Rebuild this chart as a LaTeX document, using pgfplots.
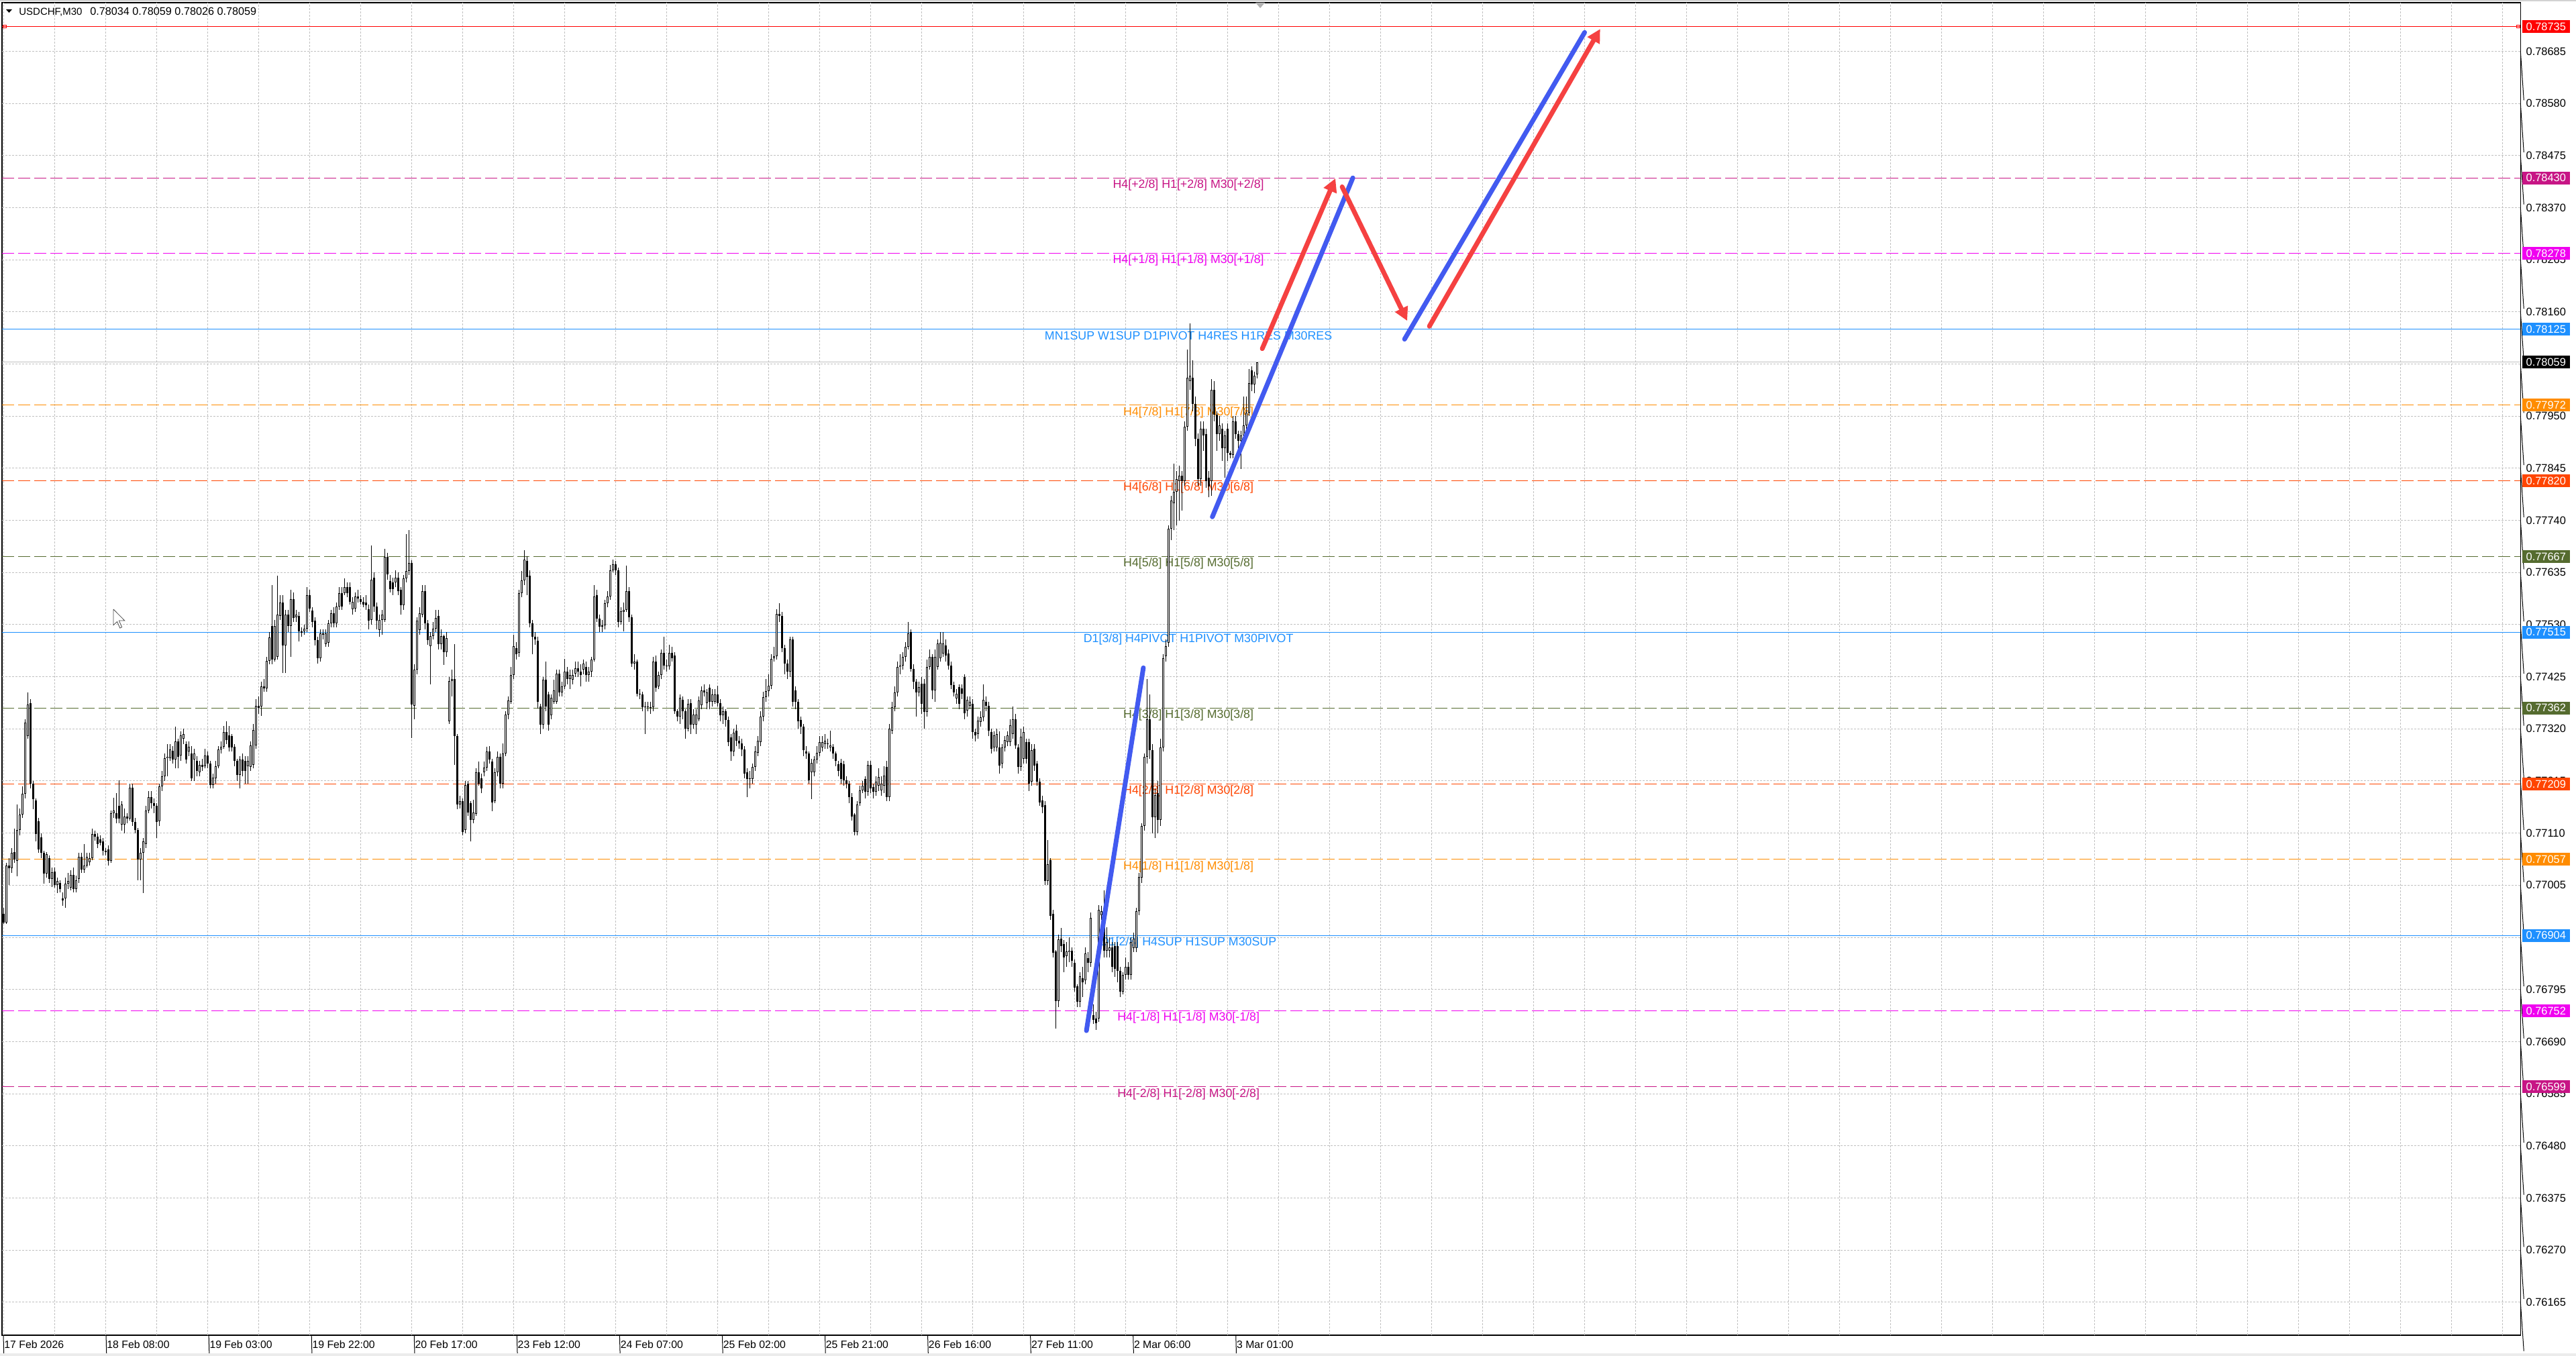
\documentclass[border=0pt]{standalone}
\usepackage{fontspec}
\setmainfont{Liberation Sans}
\usepackage{etoolbox}
\usepackage{pgfplots}
\pgfplotsset{compat=1.18}
\usepackage{pgfplotstable}
\usetikzlibrary{arrows.meta}
\definecolor{dodger}{RGB}{30,144,255}
\definecolor{mvred}{RGB}{199,21,133}
\definecolor{magen}{RGB}{240,0,240}
\definecolor{dorange}{RGB}{255,140,0}
\definecolor{ored}{RGB}{255,69,0}
\definecolor{dolive}{RGB}{85,107,47}
\definecolor{gridc}{RGB}{192,192,192}
\definecolor{tblue}{RGB}{66,90,240}
\definecolor{tred}{RGB}{245,65,65}
\tikzset{
  lev/.style={line width=0.5pt, dash pattern=on 9pt off 3pt},
  sol/.style={line width=0.5pt},
  lab/.style={anchor=base, yshift=-7.7pt, inner sep=0pt, font=\fontsize{8.9}{10}\selectfont},
  box/.style={anchor=west, xshift=1pt, inner xsep=3pt, inner ysep=0pt, minimum height=9.5pt, text=white, font=\fontsize{8.2}{10}\selectfont},
}
% y axis unit: (price - 0.76) * 100000
\newcommand\lvl[2]{\addplot[#1, forget plot] table[row sep=\\, y expr={(\thisrow{p}-0.76)*100000}] {x p\\ -0.5 #2\\ 937.75 #2\\};}
\newcommand\seg[5]{\addplot[#1, forget plot] table[row sep=\\, y expr={(\thisrow{p}-0.76)*100000}] {x p\\ #2 #3\\ #4 #5\\};}
\newcommand\plotpts[2]{\addplot[#1] coordinates {#2};}

\pgfplotstableread{
i o h l c
0 0.76948 0.76960 0.76927 0.76930
1 0.76930 0.77050 0.76927 0.77044
2 0.77044 0.77060 0.77005 0.77039
3 0.77039 0.77080 0.77030 0.77070
4 0.77072 0.77119 0.77050 0.77057
5 0.77054 0.77168 0.77023 0.77116
6 0.77116 0.77160 0.77105 0.77147
7 0.77147 0.77204 0.77140 0.77189
8 0.77189 0.77340 0.77180 0.77333
9 0.77305 0.77393 0.77300 0.77369
10 0.77372 0.77380 0.77200 0.77209
11 0.77209 0.77215 0.77158 0.77178
12 0.77176 0.77180 0.77093 0.77108
13 0.77134 0.77140 0.77070 0.77077
14 0.77101 0.77110 0.77060 0.77070
15 0.77070 0.77075 0.77008 0.77028
16 0.77028 0.77072 0.77020 0.77067
17 0.77059 0.77065 0.77010 0.77018
18 0.77018 0.77040 0.77002 0.77031
19 0.77033 0.77040 0.77000 0.77005
20 0.77005 0.77020 0.76989 0.77013
21 0.77010 0.77015 0.76990 0.76997
22 0.76979 0.76990 0.76964 0.76974
23 0.76979 0.77020 0.76959 0.77008
24 0.77008 0.77030 0.76997 0.77013
25 0.77000 0.77035 0.76995 0.77026
26 0.77026 0.77040 0.76990 0.76997
27 0.76997 0.77025 0.76990 0.77015
28 0.77018 0.77070 0.77010 0.77062
29 0.77062 0.77070 0.77030 0.77036
30 0.77036 0.77088 0.77030 0.77044
31 0.77044 0.77070 0.77040 0.77062
32 0.77052 0.77070 0.77045 0.77059
33 0.77059 0.77119 0.77055 0.77108
34 0.77108 0.77115 0.77095 0.77103
35 0.77103 0.77110 0.77080 0.77088
36 0.77098 0.77105 0.77085 0.77090
37 0.77093 0.77100 0.77065 0.77075
38 0.77075 0.77080 0.77065 0.77072
39 0.77077 0.77085 0.77045 0.77054
40 0.77054 0.77155 0.77050 0.77150
41 0.77150 0.77181 0.77140 0.77155
42 0.77150 0.77191 0.77130 0.77139
43 0.77165 0.77217 0.77130 0.77139
44 0.77127 0.77175 0.77115 0.77168
45 0.77127 0.77160 0.77110 0.77144
46 0.77144 0.77150 0.77130 0.77139
47 0.77139 0.77210 0.77135 0.77201
48 0.77201 0.77210 0.77125 0.77132
49 0.77132 0.77140 0.77110 0.77116
50 0.77116 0.77120 0.77015 0.77057
51 0.77057 0.77080 0.77015 0.77070
52 0.77070 0.77100 0.76989 0.77093
53 0.77088 0.77165 0.77080 0.77155
54 0.77155 0.77195 0.77150 0.77183
55 0.77183 0.77195 0.77160 0.77170
56 0.77170 0.77180 0.77150 0.77165
57 0.77165 0.77170 0.77100 0.77132
58 0.77134 0.77210 0.77125 0.77204
59 0.77204 0.77235 0.77195 0.77225
60 0.77225 0.77270 0.77215 0.77261
61 0.77261 0.77290 0.77225 0.77264
62 0.77261 0.77290 0.77255 0.77279
63 0.77276 0.77285 0.77250 0.77258
64 0.77258 0.77325 0.77240 0.77295
65 0.77295 0.77300 0.77240 0.77264
66 0.77266 0.77315 0.77255 0.77307
67 0.77300 0.77320 0.77290 0.77310
68 0.77289 0.77295 0.77250 0.77258
69 0.77274 0.77295 0.77265 0.77284
70 0.77271 0.77285 0.77215 0.77220
71 0.77258 0.77280 0.77215 0.77271
72 0.77256 0.77265 0.77225 0.77235
73 0.77233 0.77255 0.77225 0.77248
74 0.77248 0.77260 0.77235 0.77243
75 0.77245 0.77280 0.77240 0.77266
76 0.77266 0.77275 0.77240 0.77250
77 0.77250 0.77255 0.77200 0.77207
78 0.77207 0.77230 0.77200 0.77222
79 0.77220 0.77255 0.77210 0.77245
80 0.77245 0.77285 0.77240 0.77279
81 0.77279 0.77295 0.77270 0.77284
82 0.77284 0.77326 0.77280 0.77313
83 0.77313 0.77335 0.77290 0.77297
84 0.77307 0.77326 0.77275 0.77282
85 0.77305 0.77310 0.77275 0.77282
86 0.77284 0.77290 0.77245 0.77256
87 0.77256 0.77260 0.77215 0.77227
88 0.77227 0.77265 0.77200 0.77258
89 0.77258 0.77270 0.77225 0.77235
90 0.77256 0.77265 0.77209 0.77235
91 0.77245 0.77265 0.77209 0.77256
92 0.77243 0.77295 0.77235 0.77287
93 0.77248 0.77330 0.77240 0.77318
94 0.77287 0.77380 0.77280 0.77367
95 0.77367 0.77385 0.77350 0.77362
96 0.77365 0.77415 0.77346 0.77406
97 0.77406 0.77420 0.77395 0.77401
98 0.77401 0.77465 0.77395 0.77457
99 0.77457 0.77515 0.77450 0.77504
100 0.77527 0.77610 0.77450 0.77460
101 0.77460 0.77540 0.77455 0.77527
102 0.77465 0.77628 0.77460 0.77550
103 0.77548 0.77590 0.77540 0.77574
104 0.77574 0.77590 0.77432 0.77488
105 0.77488 0.77560 0.77432 0.77550
106 0.77550 0.77560 0.77515 0.77527
107 0.77527 0.77600 0.77465 0.77581
108 0.77581 0.77595 0.77535 0.77543
109 0.77545 0.77560 0.77535 0.77550
110 0.77548 0.77555 0.77496 0.77517
111 0.77517 0.77525 0.77505 0.77514
112 0.77517 0.77530 0.77510 0.77522
113 0.77522 0.77605 0.77515 0.77589
114 0.77589 0.77600 0.77555 0.77563
115 0.77558 0.77565 0.77525 0.77535
116 0.77538 0.77545 0.77488 0.77499
117 0.77499 0.77505 0.77452 0.77463
118 0.77463 0.77520 0.77455 0.77512
119 0.77512 0.77520 0.77500 0.77509
120 0.77491 0.77520 0.77485 0.77512
121 0.77494 0.77540 0.77485 0.77532
122 0.77532 0.77560 0.77525 0.77553
123 0.77553 0.77565 0.77525 0.77532
124 0.77532 0.77575 0.77525 0.77566
125 0.77566 0.77605 0.77560 0.77594
126 0.77594 0.77605 0.77560 0.77566
127 0.77594 0.77623 0.77590 0.77605
128 0.77605 0.77615 0.77585 0.77594
129 0.77605 0.77615 0.77570 0.77576
130 0.77561 0.77585 0.77550 0.77576
131 0.77563 0.77595 0.77555 0.77587
132 0.77587 0.77600 0.77575 0.77582
133 0.77581 0.77590 0.77570 0.77576
134 0.77576 0.77585 0.77565 0.77571
135 0.77574 0.77590 0.77560 0.77569
136 0.77561 0.77570 0.77520 0.77538
137 0.77540 0.77690 0.77530 0.77620
138 0.77625 0.77635 0.77555 0.77566
139 0.77566 0.77575 0.77520 0.77538
140 0.77519 0.77550 0.77505 0.77540
141 0.77540 0.77560 0.77510 0.77550
142 0.77540 0.77682 0.77535 0.77667
143 0.77667 0.77675 0.77620 0.77631
144 0.77618 0.77630 0.77595 0.77602
145 0.77615 0.77625 0.77590 0.77602
146 0.77615 0.77640 0.77605 0.77625
147 0.77625 0.77635 0.77590 0.77597
148 0.77600 0.77605 0.77550 0.77569
149 0.77569 0.77630 0.77560 0.77623
150 0.77623 0.77713 0.77615 0.77638
151 0.77638 0.77721 0.77630 0.77654
152 0.77654 0.77660 0.77302 0.77369
153 0.77367 0.77450 0.77340 0.77439
154 0.77439 0.77545 0.77430 0.77538
155 0.77519 0.77565 0.77510 0.77553
156 0.77550 0.77610 0.77545 0.77597
157 0.77597 0.77610 0.77520 0.77532
158 0.77532 0.77540 0.77490 0.77499
159 0.77486 0.77515 0.77410 0.77507
160 0.77507 0.77535 0.77500 0.77522
161 0.77522 0.77560 0.77515 0.77543
162 0.77548 0.77560 0.77480 0.77491
163 0.77491 0.77520 0.77480 0.77507
164 0.77507 0.77510 0.77449 0.77475
165 0.77475 0.77515 0.77465 0.77503
166 0.77335 0.77425 0.77330 0.77417
167 0.77417 0.77440 0.77385 0.77420
168 0.77420 0.77491 0.77247 0.77305
169 0.77305 0.77310 0.77158 0.77168
170 0.77168 0.77185 0.77160 0.77174
171 0.77174 0.77180 0.77105 0.77112
172 0.77116 0.77215 0.77110 0.77207
173 0.77210 0.77215 0.77145 0.77151
174 0.77170 0.77175 0.77093 0.77137
175 0.77137 0.77177 0.77130 0.77151
176 0.77149 0.77240 0.77145 0.77233
177 0.77233 0.77254 0.77205 0.77210
178 0.77221 0.77230 0.77190 0.77200
179 0.77233 0.77254 0.77225 0.77242
180 0.77242 0.77284 0.77235 0.77275
181 0.77275 0.77285 0.77250 0.77258
182 0.77254 0.77260 0.77154 0.77172
183 0.77175 0.77240 0.77170 0.77233
184 0.77233 0.77275 0.77225 0.77263
185 0.77263 0.77270 0.77200 0.77210
186 0.77210 0.77291 0.77200 0.77270
187 0.77270 0.77355 0.77265 0.77349
188 0.77349 0.77385 0.77340 0.77377
189 0.77375 0.77445 0.77370 0.77428
190 0.77428 0.77510 0.77420 0.77486
191 0.77482 0.77495 0.77460 0.77470
192 0.77473 0.77600 0.77465 0.77593
193 0.77593 0.77638 0.77585 0.77619
194 0.77619 0.77680 0.77610 0.77661
195 0.77659 0.77668 0.77589 0.77626
196 0.77628 0.77640 0.77525 0.77533
197 0.77533 0.77540 0.77470 0.77505
198 0.77505 0.77515 0.77490 0.77500
199 0.77498 0.77505 0.77361 0.77375
200 0.77365 0.77370 0.77310 0.77328
201 0.77328 0.77425 0.77320 0.77419
202 0.77419 0.77456 0.77355 0.77365
203 0.77389 0.77395 0.77317 0.77328
204 0.77347 0.77390 0.77340 0.77382
205 0.77375 0.77419 0.77370 0.77398
206 0.77375 0.77440 0.77370 0.77431
207 0.77431 0.77440 0.77385 0.77393
208 0.77393 0.77415 0.77385 0.77405
209 0.77405 0.77461 0.77400 0.77435
210 0.77435 0.77445 0.77410 0.77421
211 0.77421 0.77440 0.77400 0.77428
212 0.77419 0.77440 0.77410 0.77428
213 0.77431 0.77455 0.77425 0.77442
214 0.77442 0.77455 0.77425 0.77435
215 0.77435 0.77450 0.77405 0.77428
216 0.77440 0.77459 0.77430 0.77452
217 0.77445 0.77455 0.77415 0.77428
218 0.77428 0.77445 0.77415 0.77435
219 0.77435 0.77465 0.77425 0.77459
220 0.77459 0.77610 0.77455 0.77587
221 0.77589 0.77600 0.77535 0.77542
222 0.77542 0.77550 0.77515 0.77526
223 0.77526 0.77540 0.77515 0.77528
224 0.77528 0.77580 0.77520 0.77573
225 0.77573 0.77598 0.77565 0.77587
226 0.77587 0.77650 0.77580 0.77640
227 0.77640 0.77661 0.77635 0.77652
228 0.77652 0.77658 0.77630 0.77640
229 0.77640 0.77645 0.77525 0.77535
230 0.77535 0.77565 0.77530 0.77557
231 0.77556 0.77575 0.77517 0.77559
232 0.77559 0.77649 0.77555 0.77598
233 0.77598 0.77605 0.77535 0.77545
234 0.77545 0.77550 0.77445 0.77452
235 0.77452 0.77470 0.77440 0.77456
236 0.77456 0.77460 0.77385 0.77391
237 0.77391 0.77400 0.77380 0.77389
238 0.77389 0.77395 0.77355 0.77363
239 0.77363 0.77375 0.77310 0.77365
240 0.77365 0.77375 0.77355 0.77364
241 0.77364 0.77375 0.77350 0.77362
242 0.77363 0.77465 0.77355 0.77456
243 0.77456 0.77468 0.77395 0.77403
244 0.77405 0.77435 0.77400 0.77428
245 0.77428 0.77480 0.77420 0.77473
246 0.77473 0.77505 0.77440 0.77447
247 0.77447 0.77460 0.77435 0.77446
248 0.77446 0.77490 0.77440 0.77473
249 0.77473 0.77485 0.77455 0.77463
250 0.77468 0.77475 0.77350 0.77356
251 0.77356 0.77360 0.77335 0.77345
252 0.77345 0.77390 0.77330 0.77382
253 0.77379 0.77385 0.77340 0.77356
254 0.77356 0.77360 0.77300 0.77321
255 0.77321 0.77380 0.77315 0.77370
256 0.77372 0.77380 0.77310 0.77328
257 0.77328 0.77360 0.77320 0.77349
258 0.77328 0.77360 0.77310 0.77349
259 0.77340 0.77385 0.77335 0.77377
260 0.77368 0.77405 0.77360 0.77398
261 0.77398 0.77410 0.77385 0.77393
262 0.77372 0.77400 0.77360 0.77393
263 0.77403 0.77410 0.77360 0.77375
264 0.77375 0.77400 0.77365 0.77389
265 0.77375 0.77400 0.77370 0.77389
266 0.77389 0.77407 0.77365 0.77372
267 0.77372 0.77380 0.77335 0.77347
268 0.77347 0.77365 0.77330 0.77356
269 0.77356 0.77360 0.77325 0.77338
270 0.77338 0.77345 0.77285 0.77293
271 0.77303 0.77310 0.77255 0.77275
272 0.77275 0.77320 0.77265 0.77312
273 0.77317 0.77328 0.77285 0.77296
274 0.77296 0.77305 0.77280 0.77291
275 0.77291 0.77300 0.77265 0.77279
276 0.77279 0.77285 0.77220 0.77230
277 0.77233 0.77240 0.77182 0.77219
278 0.77219 0.77235 0.77200 0.77221
279 0.77219 0.77250 0.77210 0.77244
280 0.77244 0.77285 0.77235 0.77275
281 0.77272 0.77305 0.77265 0.77296
282 0.77293 0.77355 0.77285 0.77345
283 0.77345 0.77395 0.77335 0.77384
284 0.77384 0.77420 0.77375 0.77396
285 0.77396 0.77430 0.77385 0.77407
286 0.77407 0.77470 0.77400 0.77461
287 0.77463 0.77485 0.77455 0.77466
288 0.77466 0.77561 0.77460 0.77552
289 0.77552 0.77573 0.77535 0.77547
290 0.77547 0.77555 0.77475 0.77482
291 0.77482 0.77490 0.77430 0.77452
292 0.77452 0.77460 0.77420 0.77435
293 0.77435 0.77505 0.77425 0.77500
294 0.77500 0.77505 0.77365 0.77375
295 0.77398 0.77405 0.77360 0.77375
296 0.77375 0.77380 0.77320 0.77335
297 0.77338 0.77345 0.77310 0.77324
298 0.77324 0.77330 0.77265 0.77277
299 0.77275 0.77285 0.77260 0.77270
300 0.77270 0.77275 0.77210 0.77216
301 0.77233 0.77260 0.77179 0.77251
302 0.77233 0.77265 0.77225 0.77258
303 0.77258 0.77285 0.77250 0.77272
304 0.77272 0.77305 0.77265 0.77293
305 0.77282 0.77305 0.77275 0.77293
306 0.77289 0.77310 0.77280 0.77296
307 0.77291 0.77300 0.77280 0.77289
308 0.77282 0.77317 0.77275 0.77286
309 0.77284 0.77290 0.77260 0.77270
310 0.77270 0.77275 0.77245 0.77256
311 0.77249 0.77255 0.77225 0.77235
312 0.77251 0.77260 0.77210 0.77219
313 0.77249 0.77255 0.77205 0.77216
314 0.77216 0.77225 0.77200 0.77210
315 0.77210 0.77215 0.77170 0.77182
316 0.77182 0.77190 0.77135 0.77144
317 0.77147 0.77150 0.77105 0.77112
318 0.77112 0.77175 0.77105 0.77168
319 0.77170 0.77205 0.77165 0.77196
320 0.77196 0.77215 0.77190 0.77205
321 0.77219 0.77225 0.77180 0.77193
322 0.77193 0.77255 0.77185 0.77247
323 0.77247 0.77255 0.77190 0.77200
324 0.77203 0.77210 0.77180 0.77193
325 0.77193 0.77225 0.77185 0.77213
326 0.77206 0.77240 0.77195 0.77223
327 0.77196 0.77225 0.77185 0.77209
328 0.77206 0.77245 0.77190 0.77226
329 0.77243 0.77255 0.77175 0.77183
330 0.77183 0.77330 0.77175 0.77320
331 0.77317 0.77375 0.77310 0.77364
332 0.77364 0.77405 0.77355 0.77394
333 0.77394 0.77455 0.77385 0.77445
334 0.77445 0.77470 0.77430 0.77448
335 0.77448 0.77475 0.77440 0.77465
336 0.77465 0.77495 0.77455 0.77485
337 0.77485 0.77536 0.77480 0.77512
338 0.77515 0.77520 0.77435 0.77441
339 0.77441 0.77450 0.77400 0.77415
340 0.77415 0.77420 0.77345 0.77394
341 0.77394 0.77415 0.77385 0.77404
342 0.77411 0.77425 0.77350 0.77371
343 0.77411 0.77420 0.77320 0.77354
344 0.77354 0.77460 0.77345 0.77445
345 0.77445 0.77480 0.77440 0.77465
346 0.77465 0.77470 0.77380 0.77398
347 0.77398 0.77480 0.77374 0.77465
348 0.77445 0.77500 0.77440 0.77492
349 0.77462 0.77515 0.77455 0.77493
350 0.77472 0.77515 0.77465 0.77492
351 0.77488 0.77500 0.77455 0.77468
352 0.77472 0.77480 0.77440 0.77448
353 0.77448 0.77455 0.77400 0.77408
354 0.77408 0.77415 0.77385 0.77394
355 0.77381 0.77400 0.77370 0.77391
356 0.77404 0.77410 0.77360 0.77371
357 0.77401 0.77410 0.77380 0.77391
358 0.77425 0.77430 0.77340 0.77351
359 0.77357 0.77385 0.77345 0.77378
360 0.77367 0.77385 0.77360 0.77374
361 0.77371 0.77380 0.77300 0.77314
362 0.77314 0.77320 0.77295 0.77307
363 0.77310 0.77345 0.77300 0.77337
364 0.77334 0.77355 0.77325 0.77344
365 0.77344 0.77410 0.77335 0.77378
366 0.77374 0.77385 0.77355 0.77367
367 0.77367 0.77375 0.77305 0.77317
368 0.77314 0.77320 0.77270 0.77280
369 0.77283 0.77315 0.77275 0.77307
370 0.77283 0.77320 0.77275 0.77310
371 0.77283 0.77315 0.77230 0.77246
372 0.77250 0.77290 0.77240 0.77283
373 0.77283 0.77305 0.77275 0.77297
374 0.77293 0.77315 0.77285 0.77307
375 0.77293 0.77340 0.77285 0.77327
376 0.77310 0.77365 0.77300 0.77340
377 0.77340 0.77350 0.77280 0.77287
378 0.77283 0.77290 0.77230 0.77243
379 0.77243 0.77320 0.77235 0.77304
380 0.77260 0.77325 0.77250 0.77314
381 0.77293 0.77300 0.77250 0.77260
382 0.77293 0.77300 0.77195 0.77209
383 0.77213 0.77290 0.77205 0.77277
384 0.77280 0.77290 0.77235 0.77246
385 0.77250 0.77255 0.77205 0.77213
386 0.77213 0.77220 0.77165 0.77172
387 0.77176 0.77185 0.77150 0.77162
388 0.77166 0.77175 0.77005 0.77014
389 0.77014 0.77096 0.77005 0.77047
390 0.77056 0.77060 0.76935 0.76943
391 0.76948 0.76955 0.76860 0.76869
392 0.76871 0.76875 0.76716 0.76772
393 0.76772 0.76905 0.76760 0.76896
394 0.76898 0.76919 0.76870 0.76882
395 0.76887 0.76895 0.76830 0.76860
396 0.76862 0.76890 0.76840 0.76871
397 0.76870 0.76900 0.76850 0.76873
398 0.76873 0.76880 0.76840 0.76853
399 0.76849 0.76855 0.76790 0.76799
400 0.76801 0.76805 0.76760 0.76770
401 0.76770 0.76830 0.76760 0.76822
402 0.76817 0.76840 0.76780 0.76810
403 0.76813 0.76880 0.76805 0.76867
404 0.76858 0.76870 0.76830 0.76849
405 0.76849 0.76950 0.76840 0.76939
406 0.76743 0.76765 0.76725 0.76734
407 0.76736 0.76750 0.76714 0.76727
408 0.76736 0.76965 0.76730 0.76955
409 0.76945 0.76964 0.76935 0.76953
410 0.76945 0.76995 0.76860 0.76873
411 0.76873 0.76920 0.76860 0.76890
412 0.76873 0.76900 0.76860 0.76880
413 0.76880 0.76890 0.76830 0.76840
414 0.76882 0.76890 0.76820 0.76837
415 0.76882 0.76890 0.76810 0.76833
416 0.76833 0.76840 0.76780 0.76790
417 0.76790 0.76830 0.76785 0.76824
418 0.76824 0.76860 0.76815 0.76840
419 0.76840 0.76850 0.76815 0.76824
420 0.76824 0.76900 0.76815 0.76891
421 0.76878 0.76910 0.76870 0.76898
422 0.76878 0.76960 0.76870 0.76953
423 0.76953 0.77030 0.76945 0.77022
424 0.77020 0.77130 0.77010 0.77124
425 0.77124 0.77270 0.77115 0.77263
426 0.77263 0.77420 0.77250 0.77340
427 0.77340 0.77390 0.77260 0.77277
428 0.77277 0.77290 0.77109 0.77142
429 0.77142 0.77200 0.77100 0.77187
430 0.77190 0.77215 0.77110 0.77136
431 0.77136 0.77300 0.77125 0.77283
432 0.77282 0.77470 0.77275 0.77462
433 0.77466 0.77500 0.77455 0.77487
434 0.77494 0.77730 0.77485 0.77723
435 0.77723 0.77790 0.77700 0.77780
436 0.77775 0.77854 0.77720 0.77798
437 0.77798 0.77840 0.77730 0.77823
438 0.77819 0.77850 0.77740 0.77830
439 0.77830 0.77840 0.77760 0.77819
440 0.77819 0.77940 0.77810 0.77929
441 0.77929 0.78084 0.77920 0.78028
442 0.78021 0.78137 0.78003 0.78031
443 0.78028 0.78063 0.77960 0.77975
444 0.77975 0.77990 0.77890 0.77904
445 0.77904 0.77915 0.77810 0.77823
446 0.77823 0.77940 0.77810 0.77925
447 0.77925 0.77940 0.77880 0.77911
448 0.77914 0.77925 0.77805 0.77819
449 0.77826 0.77840 0.77787 0.77808
450 0.77819 0.78024 0.77790 0.78003
451 0.78003 0.78020 0.77940 0.77953
452 0.77953 0.77960 0.77880 0.77914
453 0.77914 0.77950 0.77900 0.77932
454 0.77925 0.77935 0.77860 0.77886
455 0.77886 0.77920 0.77826 0.77911
456 0.77925 0.77935 0.77860 0.77876
457 0.77876 0.77880 0.77865 0.77872
458 0.77872 0.77950 0.77865 0.77939
459 0.77939 0.77950 0.77905 0.77914
460 0.77914 0.77920 0.77883 0.77900
461 0.77900 0.77920 0.77844 0.77911
462 0.77911 0.77989 0.77900 0.77932
463 0.77932 0.77990 0.77920 0.77957
464 0.77957 0.78045 0.77950 0.78017
465 0.78042 0.78050 0.78000 0.78014
466 0.78014 0.78040 0.77996 0.78031
467 0.78034 0.78059 0.78026 0.78059
}\candles

% build compact candle paths from the table (prices -> tenths of a pip above 0.76)
\makeatletter
\def\tocent#1{\expandafter\tocent@#1\relax}
\def\tocent@0.#1\relax{\the\numexpr#1-76000\relax}
\makeatother
\gdef\wickpts{}\gdef\bodypts{}\gdef\holpts{}
\pgfplotstablegetrowsof{\candles}
\pgfmathtruncatemacro\lastrow{\pgfplotsretval-1}
\pgfplotsforeachungrouped \rr in {0,...,\lastrow}{%
  \pgfplotstablegetelem{\rr}{i}\of\candles \edef\vi{\pgfplotsretval}%
  \pgfplotstablegetelem{\rr}{o}\of\candles \edef\vo{\tocent\pgfplotsretval}%
  \pgfplotstablegetelem{\rr}{h}\of\candles \edef\vh{\tocent\pgfplotsretval}%
  \pgfplotstablegetelem{\rr}{l}\of\candles \edef\vl{\tocent\pgfplotsretval}%
  \pgfplotstablegetelem{\rr}{c}\of\candles \edef\vc{\tocent\pgfplotsretval}%
  \xappto\wickpts{(\vi,\vl)(\vi,\vh)(\vi,nan)}%
  \ifnum\vo<\vc \edef\blo{\vo}\edef\bhi{\vc}\else \edef\blo{\vc}\edef\bhi{\vo}\fi
  \ifnum\numexpr\bhi-\blo\relax<2
    \pgfmathsetmacro\blo{(\vo+\vc)/2-0.7}\pgfmathsetmacro\bhi{(\vo+\vc)/2+0.7}%
  \fi
  \xappto\bodypts{(\vi,\blo)(\vi,\bhi)(\vi,nan)}%
  \ifnum\vc>\numexpr\vo+2\relax
    \pgfmathsetmacro\hlo{\vo+1.35}\pgfmathsetmacro\hhi{\vc-1.35}%
    \xappto\holpts{(\vi,\hlo)(\vi,\hhi)(\vi,nan)}%
  \fi
}
% chart grid (every 19 bars, every 0.00105)
\gdef\vgrid{}\gdef\hgrid{}
\pgfplotsforeachungrouped \kk in {0,19,...,931}{\xappto\vgrid{(\kk,98.5)(\kk,2783)(\kk,nan)}}
\pgfplotsforeachungrouped \kk in {165,270,...,2685}{\xappto\hgrid{(-0.5,\kk)(937.75,\kk)(0,nan)}}

\begin{document}
\begin{tikzpicture}
\begin{axis}[
  at={(1.5pt,15.5pt)}, anchor=south west,
  scale only axis, width=1876.5pt, height=993pt,
  xmin=-0.5, xmax=937.75, ymin=98.5, ymax=2783,
  clip mode=individual,
  axis line style={black, line width=0.6pt},
  xtick=\empty, ytick=\empty,
  unbounded coords=jump,
]
% grid
\def\callG{\plotpts{gridc, line width=0.5pt, dash pattern=on 1.5pt off 1pt, forget plot}}
\expandafter\callG\expandafter{\vgrid}
\expandafter\callG\expandafter{\hgrid}
% level lines (prices)
\lvl{sol, red}{0.78735}
\addplot[only marks, mark=square, mark size=1.2pt, red, mark options={fill=white, line width=0.4pt}, forget plot] coordinates {(0.5,2735) (937,2735)};
\lvl{lev, mvred}{0.78430}
\lvl{lev, magen}{0.78278}
\lvl{sol, dodger}{0.78125}
\lvl{sol, gridc}{0.78059}
\lvl{lev, dorange}{0.77972}
\lvl{lev, ored}{0.77820}
\lvl{lev, dolive}{0.77667}
\lvl{sol, dodger}{0.77515}
\lvl{lev, dolive}{0.77362}
\lvl{lev, ored}{0.77209}
\lvl{lev, dorange}{0.77057}
\lvl{sol, dodger}{0.76904}
\lvl{lev, magen}{0.76752}
\lvl{lev, mvred}{0.76599}
% level labels
\node[lab, text=mvred] at (axis cs:441.5,2430) {H4[+2/8] H1[+2/8] M30[+2/8]};
\node[lab, text=magen] at (axis cs:441.5,2278) {H4[+1/8] H1[+1/8] M30[+1/8]};
\node[lab, text=dodger] at (axis cs:441.5,2125) {MN1SUP W1SUP D1PIVOT H4RES H1RES M30RES};
\node[lab, text=dorange] at (axis cs:441.5,1972) {H4[7/8] H1[7/8] M30[7/8]};
\node[lab, text=ored] at (axis cs:441.5,1820) {H4[6/8] H1[6/8] M30[6/8]};
\node[lab, text=dolive] at (axis cs:441.5,1667) {H4[5/8] H1[5/8] M30[5/8]};
\node[lab, text=dodger] at (axis cs:441.5,1515) {D1[3/8] H4PIVOT H1PIVOT M30PIVOT};
\node[lab, text=dolive] at (axis cs:441.5,1362) {H4[3/8] H1[3/8] M30[3/8]};
\node[lab, text=ored] at (axis cs:441.5,1209) {H4[2/8] H1[2/8] M30[2/8]};
\node[lab, text=dorange] at (axis cs:441.5,1057) {H4[1/8] H1[1/8] M30[1/8]};
\node[lab, text=dodger] at (axis cs:441.5,904) {D1[2/8] H4SUP H1SUP M30SUP};
\node[lab, text=magen] at (axis cs:441.5,752) {H4[-1/8] H1[-1/8] M30[-1/8]};
\node[lab, text=mvred] at (axis cs:441.5,599) {H4[-2/8] H1[-2/8] M30[-2/8]};
% candles
\def\callA{\plotpts{black, line width=0.5pt, line cap=butt, forget plot}}
\expandafter\callA\expandafter{\wickpts}
\def\callB{\plotpts{black, line width=1.5pt, line cap=butt, forget plot}}
\expandafter\callB\expandafter{\bodypts}
\def\callC{\plotpts{white, line width=0.5pt, line cap=butt, forget plot}}
\expandafter\callC\expandafter{\holpts}
% drawn trend lines and arrows (prices)
\seg{tblue, line width=3.5pt, line cap=round}{403.5}{0.76712}{424.7}{0.77443}
\seg{tblue, line width=3.5pt, line cap=round}{450.4}{0.77747}{502.75}{0.78430}
\seg{tblue, line width=3.5pt, line cap=round}{522}{0.78105}{589.1}{0.78723}
\seg{tred, line width=3.5pt, line cap=round, -{Triangle[length=10pt,width=10pt]}}{469}{0.78086}{496.25}{0.78429}
\seg{tred, line width=3.5pt, line cap=round, -{Triangle[length=10pt,width=10pt]}}{498.75}{0.78412}{523}{0.78142}
\seg{tred, line width=3.5pt, line cap=round, -{Triangle[length=10pt,width=10pt]}}{531.25}{0.78131}{594.9}{0.78730}
% mouse cursor
\addplot[fill=white, draw=black!70, line width=0.4pt, forget plot] coordinates {(41,1561) (41,1529) (42.4,1536) (43.45,1523) (44.15,1525) (43.1,1538) (45.2,1538) (41,1561)};
% title marker and shift marker
\addplot[fill=black, draw=none, forget plot] coordinates {(1,2769.5) (3.25,2769.5) (2.125,2762.7)};
\addplot[fill=gray!60, draw=none, forget plot] coordinates {(466.5,2783) (470,2783) (468.25,2772)};
\node[anchor=base west, inner sep=0pt, font=\fontsize{7.5}{9}\selectfont] at (axis cs:5.75,2757.7) {USDCHF,M30};
\node[anchor=base west, inner sep=0pt, font=\fontsize{8.1}{9}\selectfont] at (axis cs:32.25,2757.7) {0.78034 0.78059 0.78026 0.78059};
% price scale
\def\pl#1#2{\draw[black, line width=0.5pt] (axis cs:937.75,#1) -- ++(1.5pt,0);
  \node[anchor=west, inner sep=0pt, xshift=4pt, font=\fontsize{8.2}{10}\selectfont] at (axis cs:937.75,#1) {#2};}
\pl{165}{0.76165}
\pl{270}{0.76270}
\pl{375}{0.76375}
\pl{480}{0.76480}
\pl{585}{0.76585}
\pl{690}{0.76690}
\pl{795}{0.76795}
\pl{900}{0.76900}
\pl{1005}{0.77005}
\pl{1110}{0.77110}
\pl{1215}{0.77215}
\pl{1320}{0.77320}
\pl{1425}{0.77425}
\pl{1530}{0.77530}
\pl{1635}{0.77635}
\pl{1740}{0.77740}
\pl{1845}{0.77845}
\pl{1950}{0.77950}
\pl{2055}{0.78055}
\pl{2160}{0.78160}
\pl{2265}{0.78265}
\pl{2370}{0.78370}
\pl{2475}{0.78475}
\pl{2580}{0.78580}
\pl{2685}{0.78685}
\node[box, fill=red] at (axis cs:937.75,2735) {0.78735};
\node[box, fill=mvred] at (axis cs:937.75,2430) {0.78430};
\node[box, fill=magen] at (axis cs:937.75,2278) {0.78278};
\node[box, fill=dodger] at (axis cs:937.75,2125) {0.78125};
\node[box, fill=black] at (axis cs:937.75,2059) {0.78059};
\node[box, fill=dorange] at (axis cs:937.75,1972) {0.77972};
\node[box, fill=ored] at (axis cs:937.75,1820) {0.77820};
\node[box, fill=dolive] at (axis cs:937.75,1667) {0.77667};
\node[box, fill=dodger] at (axis cs:937.75,1515) {0.77515};
\node[box, fill=dolive] at (axis cs:937.75,1362) {0.77362};
\node[box, fill=ored] at (axis cs:937.75,1209) {0.77209};
\node[box, fill=dorange] at (axis cs:937.75,1057) {0.77057};
\node[box, fill=dodger] at (axis cs:937.75,904) {0.76904};
\node[box, fill=magen] at (axis cs:937.75,752) {0.76752};
\node[box, fill=mvred] at (axis cs:937.75,599) {0.76599};
% time scale
\def\dl#1#2{\draw[black, line width=0.5pt] (axis cs:#1,98.5) -- ++(0,-1.5pt);
  \node[anchor=base west, inner sep=0pt, yshift=-10pt, xshift=0.5pt, font=\fontsize{7.9}{9}\selectfont] at (axis cs:#1,98.5) {#2};}
\dl{0}{17 Feb 2026}
\dl{38.26}{18 Feb 08:00}
\dl{76.53}{19 Feb 03:00}
\dl{114.79}{19 Feb 22:00}
\dl{153.05}{20 Feb 17:00}
\dl{191.32}{23 Feb 12:00}
\dl{229.58}{24 Feb 07:00}
\dl{267.84}{25 Feb 02:00}
\dl{306.11}{25 Feb 21:00}
\dl{344.37}{26 Feb 16:00}
\dl{382.63}{27 Feb 11:00}
\dl{420.89}{2 Mar 06:00}
\dl{459.16}{3 Mar 01:00}
\end{axis}
\fill[gray!15] (0,0) rectangle (1919.5pt,1.8pt);
\fill[gray!35] (0,1009.3pt) rectangle (1919.5pt,1010.5pt);
\pgfresetboundingbox
\path[use as bounding box] (0,0) rectangle (1919.5pt,1010.5pt);
\end{tikzpicture}
\end{document}
